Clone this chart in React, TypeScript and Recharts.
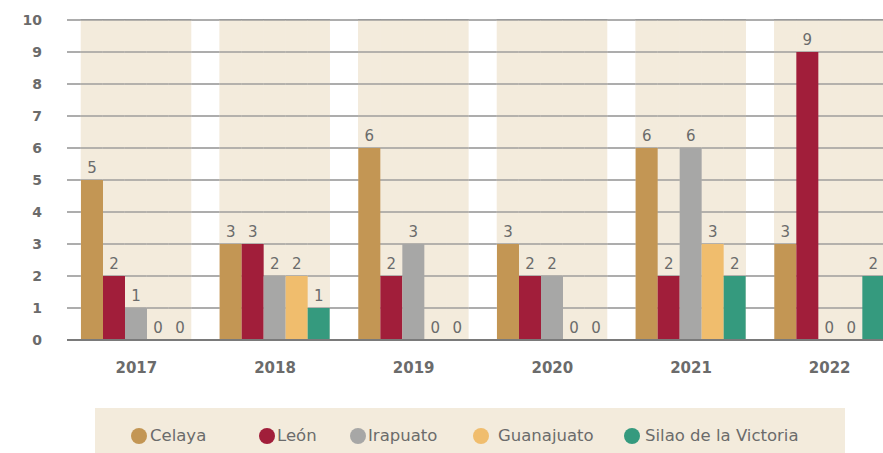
import React from "react";
import { BarChart, Bar, XAxis, YAxis, CartesianGrid, LabelList } from "recharts";

const years = ["2017", "2018", "2019", "2020", "2021", "2022"];
const celaya = [5, 3, 6, 3, 6, 3];
const leon = [2, 3, 2, 2, 2, 9];
const irapuato = [1, 2, 3, 2, 6, 0];
const guanajuato = [0, 2, 0, 0, 3, 0];
const silao = [0, 1, 0, 0, 2, 2];
const yTicks = [0, 1, 2, 3, 4, 5, 6, 7, 8, 9, 10];

const series = [
  { key: "celaya", name: "Celaya", color: "#c39654", values: celaya },
  { key: "leon", name: "León", color: "#a11e3a", values: leon },
  { key: "irapuato", name: "Irapuato", color: "#a7a7a6", values: irapuato },
  { key: "guanajuato", name: "Guanajuato", color: "#f0bd6d", values: guanajuato },
  { key: "silao", name: "Silao de la Victoria", color: "#359a7e", values: silao },
];

const data = years.map((y, i) => {
  const row: Record<string, string | number> = { year: y };
  series.forEach((s) => (row[s.key] = s.values[i]));
  return row;
});

const BAND = "#f3ebdc";
const GRID = "#929292";
const TEXT = "#6b6b6b";
const FONT = "'DejaVu Sans', sans-serif";

// beige band behind each bar slot, with the grid lines redrawn on top of it
function BandBg(props: any) {
  const { x, y, width, height } = props;
  return (
    <g>
      <rect x={x - 0.3} y={y} width={width + 0.6} height={height} fill={BAND} />
      {yTicks.slice(1).map((t) => {
        const ly = y + height * (1 - t / 10);
        return (
          <line key={t} x1={x - 0.3} x2={x + width + 0.3} y1={ly} y2={ly} stroke={GRID} strokeWidth={1.3} />
        );
      })}
    </g>
  );
}

const legendLeft = [36, 164, 255, 378, 529];
const legendGap = [3, 2, 2, 9, 5];

export default function App() {
  return (
    <div style={{ width: 883, height: 453, overflow: "hidden", position: "relative", background: "#fff" }}>
      <style>{"html,body{margin:0;padding:0;overflow:hidden}"}</style>
      <BarChart
        width={899}
        height={453}
        data={data}
        margin={{ top: 20, right: 0, bottom: 73, left: 0 }}
        barCategoryGap={14}
        barGap={0}
      >
        <CartesianGrid vertical={false} stroke={GRID} strokeWidth={1.3} />
        <YAxis
          domain={[0, 10]}
          ticks={yTicks}
          width={67}
          axisLine={false}
          tickLine={false}
          tickSize={0}
          tickMargin={25}
          tick={{ fill: TEXT, fontSize: 14, fontWeight: 700, fontFamily: FONT }}
        />
        <XAxis
          dataKey="year"
          height={40}
          axisLine={{ stroke: "#7a7a7a", strokeWidth: 2 }}
          tickLine={false}
          tickSize={0}
          tickMargin={22}
          tick={{ fill: TEXT, fontSize: 15, fontWeight: 700, fontFamily: FONT }}
        />
        {series.map((s) => (
          <Bar
            key={s.key}
            dataKey={s.key}
            name={s.name}
            fill={s.color}
            minPointSize={0.01}
            background={<BandBg />}
            isAnimationActive={false}
          >
            <LabelList
              dataKey={s.key}
              position="top"
              offset={7}
              fill={TEXT}
              fontSize={15}
              fontFamily={FONT}
            />
          </Bar>
        ))}
      </BarChart>
      <div
        style={{
          position: "absolute",
          left: 95,
          top: 408,
          width: 750,
          height: 45,
          background: BAND,
          fontFamily: FONT,
          fontSize: 16.5,
          color: TEXT,
        }}
      >
        {series.map((s, i) => (
          <div
            key={s.key}
            style={{ position: "absolute", left: legendLeft[i], top: 18, display: "flex", alignItems: "center" }}
          >
            <span style={{ width: 16, height: 16, borderRadius: 8, background: s.color, display: "inline-block" }} />
            <span style={{ marginLeft: legendGap[i] }}>{s.name}</span>
          </div>
        ))}
      </div>
    </div>
  );
}
